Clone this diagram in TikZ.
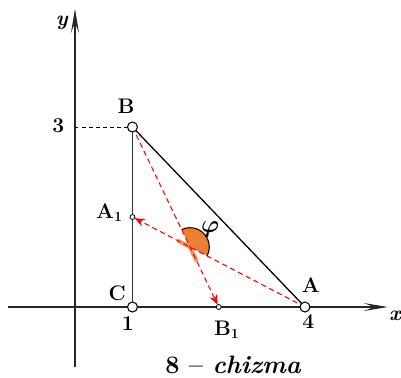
\documentclass[tikz,border=0pt]{standalone}
\usepackage{amsmath,amssymb}
\usepackage{xcolor}
\usepackage{tikz}
\usetikzlibrary{arrows.meta,calc}
\definecolor{anglefill}{RGB}{235,128,52}

\begin{document}
\begin{tikzpicture}[x=1.725cm, y=1.8cm, font=\fontsize{18}{20}\selectfont\bfseries,
  axis/.style={line width=1.1pt, black!85, -{Stealth[length=0.72cm, width=0.24cm, inset=0.3cm]}},
  median/.style={red, line width=0.9pt, dash pattern=on 4.5pt off 3pt, -{Stealth[length=0.3cm, width=0.24cm]}},
  bigdot/.style={draw, fill=white, line width=0.9pt, circle, inner sep=0pt, minimum size=0.3cm},
  smalldot/.style={draw, fill=white, line width=0.7pt, circle, inner sep=0pt, minimum size=0.15cm}]
  \useasboundingbox (-1.304,-1.183) rectangle (5.670,5.117);
  \def\r{0.58cm}
  \coordinate (O) at (0,0);
  \coordinate (A) at (4,0);
  \coordinate (B) at (1,3);
  \coordinate (C) at (1,0);
  \coordinate (A1) at (1,1.5);
  \coordinate (B1) at (2.5,0);
  \coordinate (G) at (2,1);
  \coordinate (xstart) at (-1.165,0);
  \coordinate (xend) at (5.44,0);
  \coordinate (ystart) at (0,-1.0);
  \coordinate (yend) at (0,4.97);
  \coordinate (Y3) at (0,3);
  % axes
  \draw[axis] (xstart) -- (xend);
  \draw[axis] (ystart) -- (yend);
  \node (xlab) at (5.565,-0.15) {\itshape x};
  \node (ylab) at (-0.23,4.73) {\itshape y};
  \draw[dashed, line width=0.8pt] (Y3) -- (B);
  % triangle
  \draw[line width=1.1pt] (A) -- (B);
  \draw[line width=1.3pt, black!80] (B) -- (C);
  % angle between the medians
  \fill[anglefill] let \p1=($(B)-(G)$), \p2=($(A)-(G)$), \n1={atan2(\y1,\x1)}, \n2={atan2(\y2,\x2)} in
    (G) -- ++(\n1:\r) arc[start angle=\n1, end angle=\n2, radius=\r] -- cycle;
  \draw[line width=0.9pt] let \p1=($(B)-(G)$), \p2=($(A)-(G)$), \n1={atan2(\y1,\x1)}, \n2={atan2(\y2,\x2)} in
    ($(G)+(\n1:\r)$) arc[start angle=\n1, end angle=\n2, radius=\r];
  \draw[anglefill, line width=3.5pt, opacity=0.8] (G) -- ($(G)!0.42cm!(A1)$);
  \draw[anglefill, line width=3.5pt, opacity=0.8] (G) -- ($(G)!0.48cm!(B1)$);
  % medians
  \draw[median, shorten >=0.075cm] (A) -- (A1);
  \draw[median, shorten >=0.075cm] (B) -- (B1);
  % points
  \node[bigdot] (Bp) at (B) {};
  \node[bigdot] (Cp) at (C) {};
  \node[bigdot] (Ap) at (A) {};
  \node[smalldot] (A1p) at (A1) {};
  \node[smalldot] (B1p) at (B1) {};
  % labels
  \node (Blab) at (0.887,3.34) {B};
  \node (Clab) at (0.736,0.23) {C};
  \node (Alab) at (4.1,0.37) {A};
  \node[anchor=east] (A1lab) at (0.9,1.57) {A$_{\mathbf{1}}$};
  \node (B1lab) at (2.64,-0.38) {B$_{\mathbf{1}}$};
  \node (one) at (0.917,-0.28) {1};
  \node (four) at (4.06,-0.245) {4};
  \node (three) at (-0.29,3.03) {3};
  \node[font=\fontsize{21}{23}\selectfont\boldmath] (phi) at (2.35,1.29) {$\varphi$};
  \node[font=\fontsize{21.5}{24}\selectfont\bfseries, anchor=base, inner sep=0pt] (caption) at (2.75,-1.115) {8 -- \itshape chizma};
\end{tikzpicture}
\end{document}
